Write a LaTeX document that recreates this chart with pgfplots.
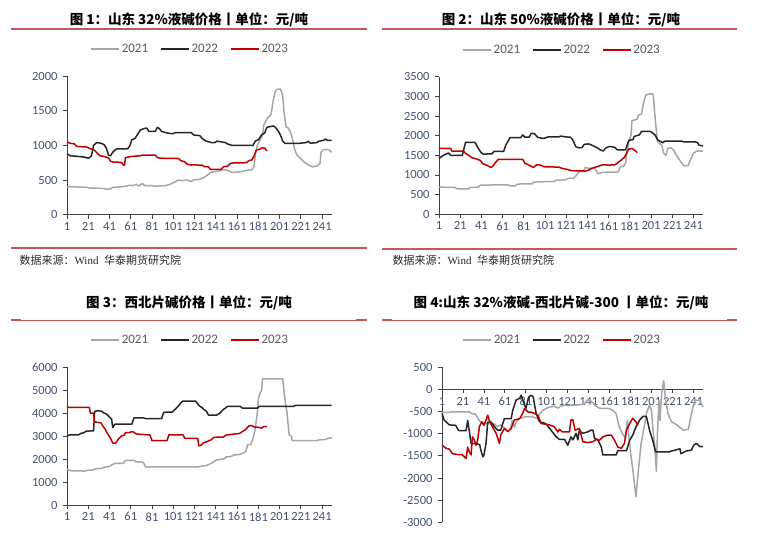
\documentclass[border=0pt]{standalone}
\usepackage{fontspec}
\setmainfont{Carlito}
\newfontfamily\cjk{Noto Sans CJK SC}
\newfontfamily\serifw{Liberation Serif}
\usepackage{pgfplots}
\pgfplotsset{compat=1.18}
\definecolor{c21}{RGB}{166,166,166}
\definecolor{c22}{RGB}{38,38,38}
\definecolor{c23}{RGB}{192,0,0}
\definecolor{rulec}{RGB}{192,92,88}
\definecolor{tickc}{RGB}{64,84,112}
\definecolor{legc}{RGB}{89,89,89}
\definecolor{axc}{RGB}{64,64,64}
\pgfplotsset{
  panel/.style={
    scale only axis,
    axis x line*=bottom, axis y line*=left,
    xmin=1, xmax=250,
    xtick={1,21,...,241},
    tick align=outside,
    major tick length=4pt,
    tick style={draw=axc, line width=0.8pt},
    axis line style={draw=axc, line width=0.9pt},
    tick label style={font=\fontsize{12.5}{13}\selectfont, text=tickc},
    yticklabel style={xshift=-2pt},
    /pgf/number format/assume math mode=true,
    /pgf/number format/1000 sep={},
    scaled y ticks=false,
    clip=false,
    legend columns=-1,
    legend style={draw=none, fill=none, font=\fontsize{13}{13}\selectfont, text=legc, anchor=center,
      /tikz/every even column/.append style={column sep=10pt}},
    legend image code/.code={\draw[#1] (0pt,0pt) -- (28pt,0pt);},
    every axis plot/.append style={line width=1.5pt, mark=none, line join=round},
  }
}
\begin{document}
\begin{tikzpicture}
\path[use as bounding box] (0,0) rectangle (759pt,-532pt);
% titles and rules
\node[font=\cjk\bfseries\fontsize{13.5}{14}\selectfont] at (189pt,-20pt) {图 1：山东 32\%液碱价格丨单位：元/吨};
\node[font=\cjk\bfseries\fontsize{13.5}{14}\selectfont] at (561pt,-20pt) {图 2：山东 50\%液碱价格丨单位：元/吨};
\node[font=\cjk\bfseries\fontsize{13.5}{14}\selectfont] at (189pt,-303pt) {图 3：西北片碱价格丨单位：元/吨};
\node[font=\cjk\bfseries\fontsize{13.5}{14}\selectfont] at (561pt,-303pt) {图 4:山东 32\%液碱-西北片碱-300 丨单位：元/吨};
\draw[rulec, line width=1.4pt] (11pt,-29pt) -- (367pt,-29pt);
\draw[rulec, line width=1.4pt] (382pt,-29pt) -- (737pt,-29pt);
\draw[rulec, line width=1.4pt] (11pt,-248pt) -- (367pt,-248pt);
\draw[rulec, line width=1.4pt] (382pt,-249pt) -- (737pt,-249pt);
\draw[rulec, line width=0.8pt] (11pt,-320pt) -- (367pt,-320pt);
\draw[rulec, line width=1.4pt] (11pt,-320pt) -- (21pt,-320pt);
\draw[rulec, line width=1.4pt] (356pt,-320pt) -- (367pt,-320pt);
\draw[rulec, line width=0.8pt] (382pt,-320pt) -- (737pt,-320pt);
\draw[rulec, line width=1.4pt] (382pt,-320pt) -- (392pt,-320pt);
\draw[rulec, line width=1.4pt] (727pt,-320pt) -- (737pt,-320pt);
\node[anchor=west, font=\fontsize{11}{11}\selectfont, text=black!85] at (16pt,-260pt) {\cjk 数据来源：\serifw Wind\ \ \cjk 华泰期货研究院};
\node[anchor=west, font=\fontsize{11}{11}\selectfont, text=black!85] at (389pt,-260pt) {\cjk 数据来源：\serifw Wind\ \ \cjk 华泰期货研究院};

% ---------- Panel 1 ----------
\begin{axis}[panel, at={(67pt,-214.7pt)}, anchor=south west, width=264.7pt, height=138.7pt,
  ymin=0, ymax=2000, ytick={0,500,...,2000}, legend style={at={(0.465,1.195)}}]
\addplot[c21] coordinates {(1,400)(10,400)(20,395)(22,385)(34,380)(38,370)(42,372)(44,395)(50,400)(56,410)(58,420)(64,425)(66,440)(68,415)(70,430)(72,450)(74,420)(80,420)(84,410)(88,415)(94,420)(98,440)(102,470)(106,500)(110,490)(114,500)(118,480)(120,500)(126,510)(130,540)(134,580)(136,610)(140,620)(144,630)(148,650)(152,640)(156,610)(162,615)(166,625)(170,640)(175,650)(177,700)(178,850)(180,1000)(182,1060)(185,1150)(186,1290)(188,1350)(190,1400)(193,1450)(195,1650)(197,1780)(199,1810)(202,1810)(204,1700)(205,1500)(207,1270)(209,1250)(211,1200)(213,1100)(215,950)(217,870)(220,820)(224,760)(228,720)(232,690)(236,700)(239,740)(240,900)(242,940)(247,940)(250,900)};
\addplot[c22] coordinates {(1,880)(4,850)(12,840)(18,830)(19,820)(22,820)(24,850)(26,1000)(29,1040)(33,1030)(36,1010)(38,960)(40,860)(42,850)(44,900)(46,930)(48,950)(58,950)(60,990)(62,1080)(65,1100)(67,1150)(70,1220)(73,1240)(76,1250)(78,1200)(84,1200)(86,1260)(88,1240)(90,1200)(95,1180)(98,1170)(101,1170)(103,1185)(118,1185)(120,1150)(126,1140)(128,1100)(132,1060)(137,1040)(140,1040)(142,1060)(146,1050)(150,1040)(152,1020)(156,1000)(176,1000)(178,1060)(181,1080)(184,1150)(187,1180)(189,1260)(195,1280)(197,1260)(200,1200)(202,1140)(204,1060)(206,1030)(220,1030)(226,1040)(228,1060)(230,1030)(236,1040)(238,1060)(242,1070)(244,1090)(246,1070)(250,1070)};
\addplot[c23] coordinates {(1,1050)(4,1030)(8,1020)(10,985)(20,975)(22,955)(26,940)(28,910)(30,880)(32,850)(36,840)(40,820)(42,770)(44,760)(52,755)(54,720)(55,710)(56,820)(58,830)(62,840)(70,850)(72,860)(84,860)(86,825)(88,815)(106,810)(108,780)(112,760)(114,730)(116,720)(128,715)(130,695)(134,690)(136,655)(146,655)(148,690)(152,700)(154,730)(156,745)(170,750)(172,780)(175,790)(177,850)(179,930)(183,950)(185,965)(187,960)(189,920)};
\legend{2021,2022,2023}
\end{axis}

% ---------- Panel 2 ----------
\begin{axis}[panel, at={(439pt,-214.3pt)}, anchor=south west, width=264pt, height=137.6pt,
  ymin=0, ymax=3500, ytick={0,500,...,3500}, legend style={at={(0.466,1.194)}}]
\addplot[c21] coordinates {(1,690)(16,685)(18,650)(29,645)(30,680)(38,690)(40,740)(57,750)(66,750)(68,720)(73,720)(75,770)(89,775)(90,820)(98,825)(100,830)(109,830)(112,870)(120,875)(123,915)(128,920)(130,975)(133,1080)(137,1090)(139,1195)(142,1170)(148,1170)(151,1030)(155,1065)(160,1070)(170,1075)(172,1210)(175,1220)(177,1300)(178,1550)(180,1850)(182,2000)(183,2380)(188,2420)(189,2520)(192,2550)(194,2850)(196,3030)(199,3060)(203,3060)(205,2400)(207,1850)(209,1800)(211,1760)(213,1550)(215,1500)(217,1680)(220,1690)(222,1640)(225,1500)(229,1340)(232,1230)(236,1240)(238,1380)(241,1550)(244,1610)(250,1610)};
\addplot[c22] coordinates {(1,1420)(5,1500)(10,1560)(12,1500)(23,1500)(24,1610)(26,1830)(35,1830)(38,1680)(41,1560)(43,1530)(51,1540)(53,1600)(62,1600)(64,1760)(68,1950)(78,1950)(80,2020)(82,1960)(86,1960)(88,2060)(91,2050)(94,1960)(97,1940)(100,1930)(104,1970)(114,1970)(116,1990)(120,1970)(125,1960)(127,1900)(130,1720)(133,1690)(136,1700)(138,1780)(142,1790)(145,1760)(148,1720)(151,1680)(153,1640)(156,1610)(158,1680)(161,1720)(164,1720)(167,1700)(169,1640)(177,1640)(178,1730)(180,1880)(184,1900)(185,1980)(190,2020)(192,2110)(200,2110)(203,2060)(205,2010)(207,1900)(210,1850)(212,1820)(214,1860)(230,1860)(232,1840)(243,1840)(245,1820)(246,1760)(250,1740)};
\addplot[c23] coordinates {(1,1680)(12,1680)(13,1610)(24,1610)(26,1550)(29,1500)(32,1440)(36,1410)(40,1370)(42,1290)(46,1250)(50,1190)(52,1230)(54,1310)(57,1400)(80,1400)(82,1300)(86,1250)(90,1190)(93,1260)(97,1250)(100,1210)(114,1200)(117,1170)(122,1140)(126,1110)(139,1100)(142,1120)(145,1170)(150,1210)(155,1260)(161,1250)(167,1260)(170,1320)(173,1380)(176,1450)(178,1560)(180,1660)(183,1670)(186,1620)(188,1570)};
\legend{2021,2022,2023}
\end{axis}

% ---------- Panel 3 ----------
\begin{axis}[panel, at={(67pt,-505pt)}, anchor=south west, width=264.7pt, height=137.7pt,
  ymin=0, ymax=6000, ytick={0,1000,...,6000}, legend style={at={(0.465,1.198)}}]
\addplot[c21] coordinates {(1,1560)(5,1490)(18,1480)(20,1510)(26,1530)(28,1580)(33,1590)(35,1640)(41,1680)(43,1750)(46,1810)(54,1820)(56,1940)(64,1950)(66,1880)(71,1880)(73,1840)(75,1660)(124,1660)(127,1690)(132,1720)(135,1780)(138,1850)(141,1950)(145,1990)(149,2010)(151,2100)(155,2110)(158,2180)(163,2200)(166,2250)(169,2330)(171,2620)(174,2640)(176,2900)(178,3300)(180,4000)(181,4600)(182,4800)(184,5000)(185,5500)(204,5500)(205,5000)(206,4600)(207,4300)(208,4000)(209,3500)(210,3050)(212,3000)(213,2800)(236,2800)(238,2840)(244,2850)(246,2900)(250,2930)};
\addplot[c22] coordinates {(1,3000)(3,3050)(12,3060)(14,3120)(17,3150)(19,3220)(26,3230)(27,4080)(30,4110)(34,4080)(36,4000)(38,3970)(40,3880)(42,3780)(43,3740)(44,3370)(46,3520)(62,3520)(64,3800)(73,3800)(75,3760)(90,3760)(92,4040)(100,4050)(103,4180)(106,4330)(108,4450)(110,4530)(122,4530)(124,4400)(126,4300)(128,4250)(130,4150)(132,4100)(134,3920)(142,3920)(145,4010)(148,4160)(150,4220)(152,4300)(164,4300)(166,4220)(180,4220)(182,4300)(214,4300)(216,4340)(250,4340)};
\addplot[c23] coordinates {(1,4300)(2,4250)(22,4250)(23,4000)(26,4000)(27,3620)(33,3580)(35,3420)(37,3300)(38,3200)(40,3050)(42,2900)(44,2700)(47,2700)(49,2850)(52,3000)(55,3050)(56,3150)(60,3160)(62,3200)(64,3170)(66,3100)(70,3080)(74,3070)(79,3050)(81,2800)(95,2800)(97,3060)(110,3060)(112,2900)(124,2900)(125,2580)(127,2600)(129,2700)(132,2750)(137,2850)(139,2950)(148,2960)(151,3050)(160,3100)(163,3110)(166,3200)(169,3280)(172,3450)(175,3460)(177,3400)(182,3380)(184,3350)(186,3420)(189,3420)};
\legend{2021,2022,2023}
\end{axis}

% ---------- Panel 4 ----------
\begin{axis}[panel, axis x line*=middle, at={(442pt,-522.3pt)}, anchor=south west, width=261pt, height=155pt,
  ymin=-3000, ymax=500, ytick={-3000,-2500,...,500},
  hide obscured x ticks=false, hide obscured y ticks=false,
  legend style={at={(0.46,1.176)}}]
\addplot[c21] coordinates {(1,-520)(8,-520)(10,-505)(27,-505)(29,-540)(33,-560)(36,-680)(38,-740)(43,-770)(51,-780)(54,-840)(57,-800)(60,-860)(62,-900)(64,-950)(66,-900)(68,-700)(70,-850)(72,-720)(75,-660)(80,-620)(86,-610)(90,-640)(92,-660)(94,-560)(97,-470)(103,-400)(108,-380)(112,-420)(114,-380)(118,-360)(130,-350)(136,-330)(138,-300)(140,-230)(143,-260)(145,-300)(148,-380)(152,-430)(160,-430)(164,-470)(167,-540)(170,-840)(173,-990)(176,-1100)(177,-850)(178,-700)(179,-1000)(181,-1450)(183,-1800)(186,-2420)(188,-1900)(190,-1450)(191,-1220)(193,-960)(195,-700)(196,-540)(199,-350)(201,-500)(202,-850)(204,-1300)(205.5,-1850)(206.5,-1000)(208,-250)(209,-700)(210.5,-100)(212.5,200)(214,-170)(216.5,-540)(220,-730)(225,-800)(231,-920)(236,-900)(239,-540)(242,-240)(247,-250)(250,-400)};
\addplot[c22] coordinates {(1,-540)(3,-690)(8,-800)(14,-810)(17,-930)(24,-930)(25.5,-700)(27,-930)(28.7,-1220)(35,-1230)(37,-1250)(38,-1370)(40,-1520)(41,-1480)(43,-1220)(44.6,-740)(48,-740)(51,-840)(54,-920)(57,-920)(60.5,-660)(67,-660)(68.5,-470)(71.7,-240)(75,-200)(76.5,-130)(78.7,-280)(81,-430)(83.8,-170)(86,-130)(88,-170)(90.8,-540)(94,-730)(100,-770)(105,-920)(110,-1070)(113,-1130)(118,-1130)(121,-1260)(124,-1070)(125.8,-1140)(129,-990)(130.6,-1140)(132,-920)(135,-990)(140,-960)(143,-920)(145,-920)(146.5,-1100)(149.7,-1140)(153,-1300)(154.5,-1480)(167,-1480)(168.8,-1380)(177,-1380)(180,-1150)(183,-1030)(186,-850)(189.5,-690)(192.7,-610)(196,-610)(199,-920)(202,-1150)(204.8,-1410)(218,-1410)(220,-1390)(228,-1340)(229,-1450)(234,-1390)(239,-1370)(241,-1260)(243.7,-1220)(247,-1290)(250,-1290)};
\addplot[c23] coordinates {(1,-1260)(5,-1330)(8,-1350)(11,-1450)(16,-1470)(20,-1470)(24,-1560)(25.5,-1300)(27,-1410)(28.7,-1480)(30,-1070)(32,-1150)(33.5,-1260)(35,-1150)(36.7,-840)(39,-730)(41,-810)(43,-690)(44.6,-580)(46,-690)(49,-840)(52.6,-990)(55.8,-1220)(57,-1030)(60.5,-880)(63.7,-950)(67,-880)(70,-690)(75,-660)(78,-540)(79.7,-430)(83,-510)(86,-510)(89,-540)(92.4,-580)(95.6,-770)(103.5,-800)(108,-840)(111.5,-960)(113,-900)(116,-960)(122.6,-960)(124,-690)(125.8,-680)(128,-920)(132,-880)(135.4,-1180)(140,-1200)(145,-1180)(148,-1130)(151,-1150)(154.5,-1070)(159,-1030)(162.5,-1030)(165.6,-1150)(168.8,-1300)(172,-1330)(175,-1220)(177,-920)(180,-770)(183,-650)(186,-730)(188,-810)};
\legend{2021,2022,2023}
\end{axis}
\end{tikzpicture}
\end{document}
